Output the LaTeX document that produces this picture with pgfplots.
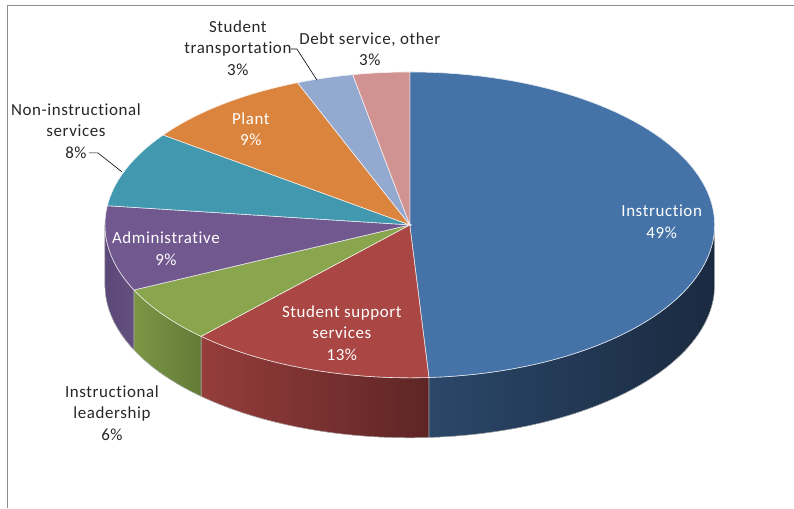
\documentclass[border=0pt]{standalone}
\usepackage{pgfplots}
\pgfplotsset{compat=1.18}
\usepgfplotslibrary{fillbetween}
\usepackage{fontspec}
\setmainfont[Ligatures=NoCommon, LetterSpace=3.5]{Carlito}
\definecolor{cInst}{HTML}{4572A7}
\definecolor{cSupp}{HTML}{AA4643}
\definecolor{cLead}{HTML}{89A54E}
\definecolor{cAdm}{HTML}{71588F}
\definecolor{cNon}{HTML}{4198AF}
\definecolor{cPlant}{HTML}{DB843D}
\definecolor{cTrans}{HTML}{93A9CF}
\definecolor{cDebt}{HTML}{D19392}
\definecolor{frameg}{HTML}{8C8C8C}
\definecolor{sInstL}{HTML}{2B4769}
\definecolor{sInstR}{HTML}{1A2A40}
\definecolor{sSuppL}{HTML}{953D3B}
\definecolor{sSuppR}{HTML}{5E2525}
\definecolor{sLeadL}{HTML}{7A9645}
\definecolor{sLeadR}{HTML}{637B37}
\definecolor{sAdmL}{HTML}{5C4878}
\definecolor{sAdmR}{HTML}{64507F}
% geometry of the pie (image pixels, y measured upward)
\newcommand\cx{410}
\newcommand\cy{283}
\newcommand\rx{305}
\newcommand\ry{153}
\newcommand\dz{60}
% #1 = cumulative percent before slice, #2 = slice percent, #3 = colour
\newcommand\topslice[3]{%
  \addplot[fill=#3, draw=white!85!#3, line width=0.6pt, samples=80,
    domain={90-3.6*(#1+#2)}:{90-3.6*(#1)}]
    ({\cx+\rx*cos(x)},{\cy+\ry*sin(x)}) -- (axis cs:\cx,\cy) -- cycle;
}
% side of a front slice: #1 start, #2 pct, #3 name, #4 left colour, #5 right colour
\newcommand\sideslice[5]{%
  \addplot[name path=T#3, draw=none, samples=80,
    domain={max(90-3.6*(#1+#2),-180)}:{min(90-3.6*(#1),0)}]
    ({\cx+\rx*cos(x)},{\cy+\ry*sin(x)});
  \addplot[name path=B#3, draw=none, samples=80,
    domain={max(90-3.6*(#1+#2),-180)}:{min(90-3.6*(#1),0)}]
    ({\cx+\rx*cos(x)},{\cy-\dz+\ry*sin(x)});
  \addplot[left color=#4, right color=#5, draw=white!75!black, line width=0.5pt]
    fill between[of=T#3 and B#3];
}
\begin{document}
\begin{tikzpicture}
\begin{axis}[
  width=794bp, height=508bp, scale only axis,
  xmin=0, xmax=794, ymin=0, ymax=508,
  hide axis, clip=false,
]
\addplot[draw=none] coordinates {(0,0) (794,508)};
% frame
\addplot[draw=frameg, line width=0.8pt] coordinates {(7,0) (7,503) (794,503)};
% sides (front)
\sideslice{0}{49}{a}{sInstL}{sInstR}
\sideslice{49}{13}{b}{sSuppL}{sSuppR}
\sideslice{62}{6}{c}{sLeadL}{sLeadR}
\sideslice{68}{9}{d}{sAdmL}{sAdmR}
% top surface
\topslice{0}{49}{cInst}
\topslice{49}{13}{cSupp}
\topslice{62}{6}{cLead}
\topslice{68}{9}{cAdm}
\topslice{77}{8}{cNon}
\topslice{85}{9}{cPlant}
\topslice{94}{3}{cTrans}
\topslice{97}{3}{cDebt}
% labels
\begin{scope}[every node/.style={align=center, inner sep=0pt, font=\fontsize{17}{21.5}\selectfont}]
\node[text=white] at (axis cs:662,286) {Instruction\\49\%};
\node[text=white] at (axis cs:342,175) {Student support\\services\\13\%};
\node[text=black!85] at (axis cs:112,95) {Instructional\\leadership\\6\%};
\node[text=white] at (axis cs:166,259) {Administrative\\9\%};
\node[text=black!85] at (axis cs:76,377) {Non-instructional\\services\\8\%};
\node[text=white] at (axis cs:251,379) {Plant\\9\%};
\node[text=black!85] at (axis cs:238,460) {Student\\transportation\\3\%};
\node[text=black!85] at (axis cs:370,459) {Debt service, other\\3\%};
\end{scope}
\draw[black, line width=0.6pt] (axis cs:89,355) -- (axis cs:98,355) -- (axis cs:122,336);
\draw[black, line width=0.6pt] (axis cs:291,459) -- (axis cs:297,459) -- (axis cs:317,428);
\end{axis}
\end{tikzpicture}
\end{document}
